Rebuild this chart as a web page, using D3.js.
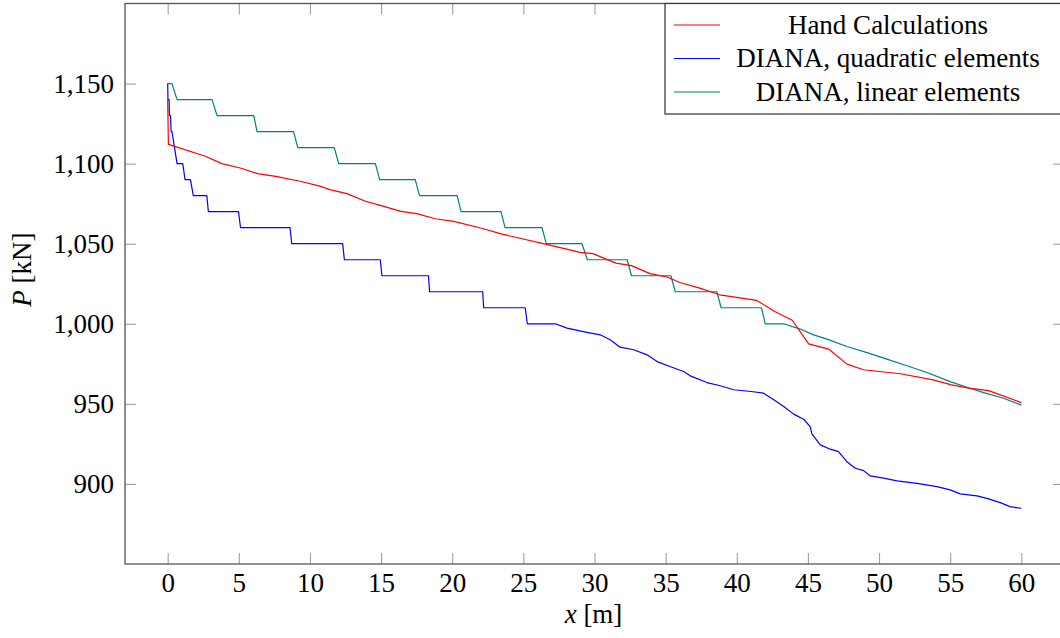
<!DOCTYPE html>
<html>
<head>
<meta charset="utf-8">
<script src="https://cdn.jsdelivr.net/npm/d3@7"></script>
<style>
  html, body { margin: 0; padding: 0; background: #fff; }
  svg { display: block; }
  text { font-family: "Liberation Serif", "Times New Roman", serif; fill: #000; }
</style>
</head>
<body>
<svg id="chart" width="1060" height="638"></svg>
<script>
// ---- data ----
const seriesNames = ["Hand Calculations", "DIANA, quadratic elements", "DIANA, linear elements"];
const seriesColors = ["#ff0000", "#0000ff", "#008080"];

const handX = [0, 0.05, 2.65, 3.8, 5.1, 6.3, 7.6, 9.3, 10.7, 11.4, 12.6, 13.9, 15.0, 16.4, 17.5, 18.8, 20.1, 22.0, 23.5, 26.7, 29.0, 29.9, 31.5, 32.6, 33.9, 35.1, 36.0, 37.4, 38.8, 41.4, 42.7, 43.9, 45.05, 46.45, 47.75, 48.9, 51.5, 53.8, 55.1, 56.3, 57.7, 60];
const handP = [1140, 1112, 1104.6, 1100, 1097.3, 1093.8, 1092, 1089, 1086, 1083.8, 1081.3, 1076.5, 1073.8, 1070.2, 1068.8, 1065.6, 1064, 1059.8, 1056, 1049.4, 1044.6, 1043.8, 1037.9, 1036.3, 1031.3, 1029.2, 1025.8, 1022.3, 1018.1, 1014.6, 1007.5, 1002.2, 987.5, 984.2, 974.8, 971.3, 968.8, 965, 961.9, 959.8, 958.3, 950.8];

const quadX = [0, 0.02, 0.1, 0.12, 0.2, 0.24, 0.3, 0.48, 0.66, 1.06, 1.22, 1.6, 1.8, 2.75, 2.86, 4.98, 5.12, 8.6, 8.72, 12.3, 12.42, 14.94, 15.06, 18.33, 18.41, 22.14, 22.21, 25.13, 25.28, 27.25, 28.07, 29.47, 30.4, 31.1, 31.8, 32.75, 33.7, 34.4, 35.3, 36.26, 36.73, 37.9, 38.84, 39.78, 41.0, 41.88, 42.6, 43.3, 44.0, 44.7, 45.16, 45.28, 45.87, 46.57, 47.15, 47.74, 48.33, 48.92, 49.38, 50.32, 51.26, 52.67, 54.07, 55.0, 55.7, 56.88, 57.58, 58.52, 59.2, 60];
const quadP = [1150, 1140, 1140, 1130, 1130, 1120, 1120, 1110, 1100, 1100, 1090, 1090, 1080, 1080, 1070, 1070, 1060, 1060, 1050, 1050, 1040, 1040, 1030, 1030, 1020, 1020, 1010, 1010, 1000, 1000, 997.3, 994.6, 993.1, 990, 985.4, 983.8, 980.6, 976.4, 973.3, 970.2, 967.5, 963.3, 961.3, 958.8, 957.7, 956.7, 952.5, 948.3, 943.6, 940.4, 935.8, 931.3, 924.4, 921.7, 920.2, 913.9, 909.8, 908.3, 905, 903.6, 901.9, 900.4, 898.3, 896.3, 893.8, 892.5, 891, 888.3, 885.8, 884.8];

const linX = [0, 0.3, 0.66, 3.12, 3.47, 6.05, 6.28, 8.85, 9.14, 11.71, 12.02, 14.6, 14.9, 17.4, 17.7, 20.34, 20.62, 23.43, 23.71, 26.31, 26.61, 29.12, 29.5, 32.3, 32.6, 35.37, 35.68, 38.6, 38.9, 41.74, 42.0, 43.3, 44.46, 45.4, 46.34, 47.74, 49.15, 50.55, 51.96, 53.37, 55.0, 56.18, 57.35, 58.75, 60];
const linP = [1150, 1150, 1140, 1140, 1130, 1130, 1120, 1120, 1110, 1110, 1100, 1100, 1090, 1090, 1080, 1080, 1070, 1070, 1060, 1060, 1050, 1050, 1040, 1040, 1030, 1030, 1020, 1020, 1010, 1010, 1000, 1000, 996.7, 993.1, 990.4, 985.8, 982, 977.9, 973.8, 969.6, 963.9, 960.4, 957, 953.5, 949.2];

const xTicks = [0, 5, 10, 15, 20, 25, 30, 35, 40, 45, 50, 55, 60];
const yTicks = [900, 950, 1000, 1050, 1100, 1150];
const xDomain = [-3, 63];
const yDomain = [850, 1200];

// ---- layout ----
const svg = d3.select("#chart");
const L = 125, R = 1064, T = 3.5, B = 564;
const FS = 27;
const x = d3.scaleLinear().domain(xDomain).range([L, R]);
const y = d3.scaleLinear().domain(yDomain).range([B, T]);

const tickColor = "#a0a0a0";

function styleAxis(g) {
  g.select(".domain").remove();
  g.selectAll(".tick line").attr("stroke", tickColor).attr("stroke-width", 1.1);
  g.selectAll(".tick text").style("font-family", '"Liberation Serif", serif').style("font-size", FS + "px").attr("fill", "#000");
}

svg.append("g").attr("transform", `translate(0,${B})`)
  .call(d3.axisBottom(x).tickValues(xTicks).tickSize(-11).tickPadding(9).tickFormat(d3.format("d")))
  .call(styleAxis);
svg.append("g").attr("transform", `translate(0,${T})`)
  .call(d3.axisTop(x).tickValues(xTicks).tickSize(-11).tickFormat(""))
  .call(styleAxis);
svg.append("g").attr("transform", `translate(${L},0)`)
  .call(d3.axisLeft(y).tickValues(yTicks).tickSize(-11).tickPadding(11).tickFormat(d3.format(",")))
  .call(styleAxis);
svg.append("g").attr("transform", `translate(${R},0)`)
  .call(d3.axisRight(y).tickValues(yTicks).tickSize(-11).tickFormat(""))
  .call(styleAxis);

// frame
svg.append("rect").attr("x", L).attr("y", T).attr("width", R - L).attr("height", B - T)
  .attr("fill", "none").attr("stroke", "#555").attr("stroke-width", 1.3);

// lines
const seriesData = [
  d3.zip(handX, handP),
  d3.zip(quadX, quadP),
  d3.zip(linX, linP)
];
const line = d3.line().x(d => x(d[0])).y(d => y(d[1]));
const drawOrder = [2, 1, 0];
drawOrder.forEach(i => {
  svg.append("path").datum(seriesData[i])
    .attr("d", line).attr("fill", "none")
    .attr("stroke", seriesColors[i]).attr("stroke-width", 1.2)
    .attr("stroke-linejoin", "round");
});

// axis labels
svg.append("text").attr("x", (L + R) / 2 - 1).attr("y", 623)
  .attr("text-anchor", "middle").style("font-size", FS + "px")
  .call(t => { t.append("tspan").style("font-style", "italic").text("x"); t.append("tspan").text(" [m]"); });
svg.append("text").attr("transform", `translate(31,${(T + B) / 2 - 14}) rotate(-90)`)
  .attr("text-anchor", "middle").style("font-size", FS + "px")
  .call(t => { t.append("tspan").style("font-style", "italic").text("P"); t.append("tspan").text(" [kN]"); });

// legend
const lg = svg.append("g");
lg.append("rect").attr("x", 665).attr("y", T).attr("width", R - 665).attr("height", 114 - T)
  .attr("fill", "#fff").attr("stroke", "#333").attr("stroke-width", 1.2);
const rowY = [25, 58.5, 92];
seriesNames.forEach((name, i) => {
  lg.append("line").attr("x1", 674).attr("x2", 720).attr("y1", rowY[i]).attr("y2", rowY[i])
    .attr("stroke", seriesColors[i]).attr("stroke-width", 1.2);
  lg.append("text").attr("x", 888).attr("y", rowY[i] + 8.5).attr("text-anchor", "middle")
    .style("font-size", FS + "px").text(name);
});
</script>
</body>
</html>
